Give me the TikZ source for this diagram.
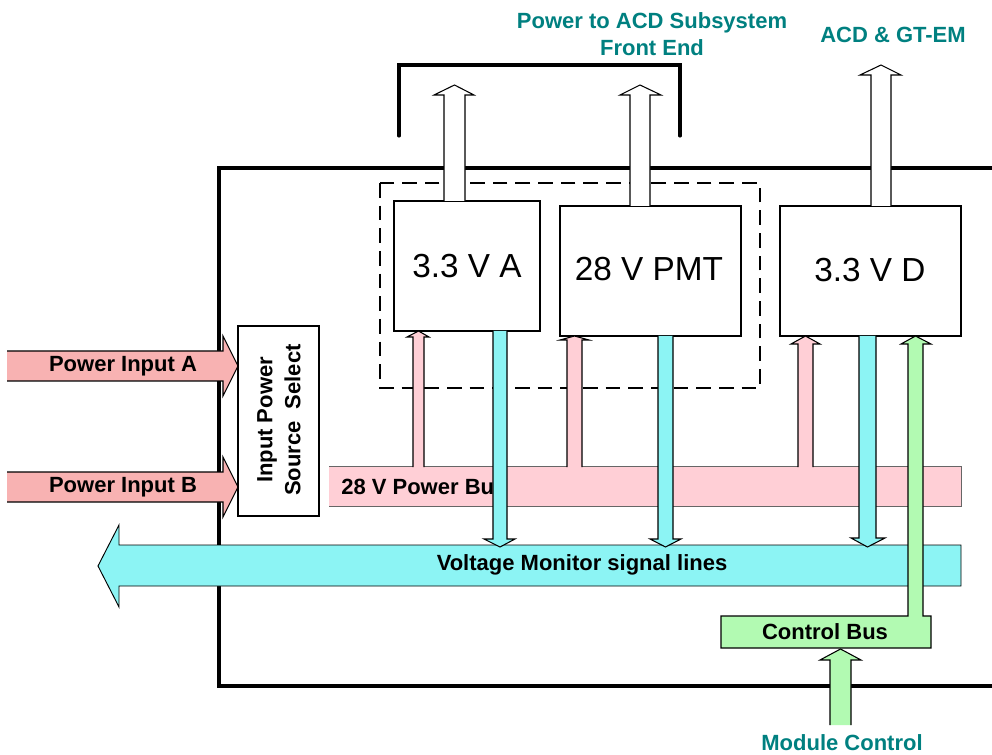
\documentclass[tikz,border=0pt]{standalone}
\usepackage{fontspec}
\setmainfont{Liberation Sans}
\definecolor{tealtxt}{RGB}{0,128,128}
\definecolor{inpink}{RGB}{248,178,178}
\definecolor{buspink}{RGB}{255,207,214}
\definecolor{cyanfill}{RGB}{140,244,244}
\definecolor{greenfill}{RGB}{178,250,178}
\tikzset{
  outerline/.style={line width=2.3pt, line cap=round},
  boxst/.style={draw=black, line width=1.1pt, fill=white},
  arrline/.style={draw=black, line width=0.8pt},
  lbl/.style={font=\fontsize{16.5}{21}\selectfont\bfseries, inner sep=0pt},
  tlbl/.style={font=\fontsize{16.5}{20}\selectfont\bfseries, text=tealtxt, inner sep=0pt, align=center},
  bigl/.style={font=\fontsize{25}{30}\selectfont, inner sep=0pt},
}
% #1 fill, #2 #3 shaft x, #4 open end y, #5 head base y, #6 #7 head x, #8 tip y
\newcommand{\vblockarr}[8]{%
  \fill[#1] (#2,#4) -- (#2,#5) -- (#6,#5) -- ({(#2+#3)/2},#8) -- (#7,#5) -- (#3,#5) -- (#3,#4) -- cycle;
  \draw[arrline] (#2,#4) -- (#2,#5) -- (#6,#5) -- ({(#2+#3)/2},#8) -- (#7,#5) -- (#3,#5) -- (#3,#4);
}
\begin{document}
\begin{tikzpicture}[x=0.75pt,y=-0.75pt]
\useasboundingbox (0,0) rectangle (992,755);
% outer module box and top bracket
\draw[outerline] (995,168) -- (219,168) -- (219,686) -- (995,686);
\draw[outerline] (399,136) -- (399,65) -- (680,65) -- (680,136);
% dashed grouping
\draw[line width=1.1pt, dash pattern=on 11pt off 6pt] (380,183) rectangle (760,388);
% supply boxes
\draw[boxst] (394,201) rectangle (540,331);
\node[bigl] (va) at (467,266) {3.3 V A};
\draw[boxst] (560,206) rectangle (741,336);
\node[bigl] (pmt) at (649,269) {28 V PMT};
\draw[boxst] (780,206) rectangle (961,336);
\node[bigl] (vd) at (870,270) {3.3 V D};
% white outputs
\vblockarr{white}{444}{465}{201}{95}{434}{474}{85}
\vblockarr{white}{630}{650}{206}{95}{620}{661}{85}
\vblockarr{white}{871}{891}{206}{75}{860}{901}{65}
% 28 V bus
\fill[buspink] (329,466) rectangle (961,506);
\draw[draw=black!60, line width=0.6pt] (329,466) -- (961,466) -- (961,506) -- (329,506);
\node[lbl, anchor=west] (bus) at (341,487) {28 V Power Bus};
% pink feeds
\vblockarr{buspink}{413}{424}{467}{337}{407}{429}{331}
\vblockarr{buspink}{567}{582}{467}{340}{560}{589}{336}
\vblockarr{buspink}{798}{813}{467}{344}{791}{820}{336}
% voltage monitor bus
\filldraw[fill=cyanfill, draw=black, line width=0.7pt] (961,545) -- (119,545) -- (119,525) -- (98,566) -- (119,607) -- (119,586) -- (961,586) -- cycle;
\node[lbl] (vm) at (582,565) {Voltage Monitor signal lines};
% cyan monitors
\vblockarr{cyanfill}{493}{507}{331}{539}{484}{515}{547}
\vblockarr{cyanfill}{658}{673}{336}{539}{650}{681}{547}
\vblockarr{cyanfill}{859}{876}{336}{538}{851}{885}{547}
% control bus with feed to 3.3 V D
\filldraw[fill=greenfill, draw=black, line width=0.8pt] (721,616) -- (908,616) -- (908,344) -- (901,344) -- (915.5,336) -- (931,344) -- (923,344) -- (923,616) -- (931,616) -- (931,648) -- (721,648) -- cycle;
\node[lbl] (cb) at (825,632) {Control Bus};
% module control input
\vblockarr{greenfill}{830}{851}{725}{660}{820}{861}{649}
% power inputs
\fill[inpink] (7,351) -- (223,351) -- (223,336) -- (238,366) -- (223,396) -- (223,381) -- (7,381) -- cycle;
\draw[arrline] (7,351) -- (223,351) -- (223,336) -- (238,366) -- (223,396) -- (223,381) -- (7,381);
\node[lbl] (pa) at (123,366) {Power Input A};
\fill[inpink] (7,472) -- (223,472) -- (223,457) -- (238,487) -- (223,517) -- (223,502) -- (7,502) -- cycle;
\draw[arrline] (7,472) -- (223,472) -- (223,457) -- (238,487) -- (223,517) -- (223,502) -- (7,502);
\node[lbl] (pb) at (123,487) {Power Input B};
% input power source select
\draw[boxst] (238,326) rectangle (319,516);
\node[lbl, rotate=90, align=center, font=\fontsize{16.5}{21}\selectfont\bfseries] (ips) at (279,420) {Input Power\\Source\ \ Select};
% outside labels
\node[tlbl] (acd) at (652,34) {Power to ACD Subsystem\\Front End};
\node[tlbl] (gtem) at (893,35) {ACD \& GT-EM};
\node[tlbl] (mc) at (842,743) {Module Control};
\end{tikzpicture}
\end{document}
